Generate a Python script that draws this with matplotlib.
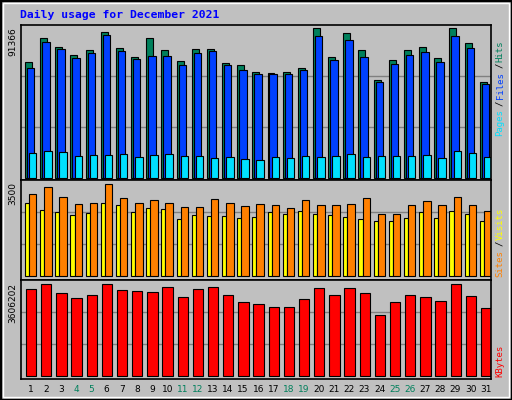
import matplotlib
matplotlib.use("Agg")
import matplotlib.pyplot as plt
from matplotlib.patches import Rectangle
import numpy as np

days = list(range(1, 32))
weekend = [4, 5, 11, 12, 18, 19, 25, 26]
hits = [69250, 83580, 78210, 73430, 76420, 87160, 77610, 72240, 83580, 76420, 69850,
        77010, 77010, 68660, 67460, 63280, 62690, 63280, 65670, 89550, 72240, 86570,
        76420, 58510, 70450, 76420, 78210, 71640, 89550, 80600, 57310]
files = [65670, 81190, 77010, 71640, 74630, 85370, 75820, 71040, 72830, 72830, 67460,
         74630, 75820, 67460, 64480, 62090, 62090, 62090, 64480, 84770, 70450, 82390,
         72240, 57310, 68060, 73430, 75220, 69250, 84770, 77610, 56120]
pages = [14930, 16120, 15520, 13130, 13730, 13730, 14330, 12540, 13730, 14330, 13130,
         13130, 11940, 12540, 11340, 10750, 12540, 11940, 13130, 12540, 13130, 14330,
         12540, 13130, 13130, 13130, 13730, 11940, 16120, 14930, 12540]
sites = [2668, 2411, 2338, 2228, 2301, 2668, 2595, 2338, 2485, 2448, 2081, 2228, 2191,
         2191, 2118, 2154, 2338, 2264, 2375, 2264, 2228, 2154, 2081, 2007, 2007, 2118,
         2338, 2118, 2375, 2264, 2007]
visits = [2999, 3256, 2889, 2632, 2668, 3366, 2852, 2668, 2778, 2668, 2521, 2521, 2815,
          2668, 2558, 2632, 2595, 2485, 2778, 2595, 2595, 2632, 2852, 2264, 2264, 2595,
          2742, 2595, 2889, 2595, 2375]
kbytes = [3277000, 3467000, 3125000, 2935000, 3049000, 3467000, 3239000, 3201000,
          3163000, 3353000, 2973000, 3277000, 3353000, 3049000, 2784000, 2708000,
          2594000, 2594000, 2898000, 3315000, 3049000, 3315000, 3125000, 2290000,
          2784000, 3049000, 2973000, 2822000, 3467000, 3011000, 2556000]
max_hits, max_visits, max_kb = 91366, 3500, 3606202

W, H = 512, 400
fig = plt.figure(figsize=(W/100, H/100), dpi=100)
fig.patch.set_facecolor("#C0C0C0")
fig.add_artist(Rectangle((0, 0), 1, 1, transform=fig.transFigure, fill=False,
                         edgecolor="black", linewidth=2.5))
fig.add_artist(Rectangle((3/W, 3/H), 1-6/W, 1-6/H, transform=fig.transFigure, fill=False,
                         edgecolor="white", linewidth=1))

fig.text(20/W, 1-15/H, "Daily usage for December 2021", color="#0000FF",
         family="DejaVu Sans Mono", weight="bold", fontsize=8.2, va="center", ha="left")

X0, X1 = 21, 491
x = np.array(days, dtype=float)

def mk_ax(ytop, ybot, base_px, top_px, vmax):
    ax = fig.add_axes([X0/W, 1-ybot/H, (X1-X0)/W, (ybot-ytop)/H])
    ax.set_facecolor("#C0C0C0")
    ppu = (base_px - top_px) / vmax
    lo = -(ybot - base_px) / ppu
    hi = vmax + (top_px - ytop) / ppu
    ax.set_ylim(lo, hi)
    ax.set_xlim(0.5, 31.5)
    ax.set_xticks([]); ax.set_yticks([])
    for s in ax.spines.values():
        s.set_color("black"); s.set_linewidth(1.2)
    for f in (1/3, 2/3):
        ax.axhline(vmax*f, color="#808080", lw=1, zorder=0)
    return ax

def bars(ax, off, w, vals, color):
    ax.bar(x - 0.5 + off, vals, width=w, align="edge", color=color,
           edgecolor="black", linewidth=0.8, zorder=2)

a1 = mk_ax(25, 180, 178, 25, max_hits)
bars(a1, 0.26, 0.46, hits, "#00805C")
bars(a1, 0.39, 0.49, files, "#0040FF")
bars(a1, 0.53, 0.49, pages, "#00E0FF")

a2 = mk_ax(180, 280, 276, 180.7, max_visits)
bars(a2, 0.26, 0.27, sites, "#FFFF00")
bars(a2, 0.53, 0.49, visits, "#FF8000")

a3 = mk_ax(280, 379, 375.7, 280.7, max_kb)
bars(a3, 0.33, 0.68, kbytes, "#FF0000")

for txt, ytop in (("91366", 27), ("3500", 182), ("3606202", 283)):
    fig.text(13/W, 1-ytop/H, txt, rotation=90, ha="center", va="top",
             fontsize=6.5, color="black")

def rlabel(parts, ybot):
    y = ybot
    for s, c in parts:
        fig.text(500/W, 1-y/H, s, rotation=90, ha="center", va="bottom",
                 family="DejaVu Sans Mono", fontsize=6.5, color=c)
        y -= 6.0 * len(s) + 0.5

rlabel([("Pages", "#00E0FF"), ("/", "#000000"), ("Files", "#0040FF"),
        ("/", "#000000"), ("Hits", "#00805C")], 136)
rlabel([("Sites", "#FF8000"), ("/", "#000000"), ("Visits", "#FFFF00")], 277)
rlabel([("KBytes", "#FF0000")], 377)

for d in days:
    xp = X0 + (d - 0.5 + 0.62 - 0.5) * (X1 - X0) / 31 + 0.5
    fig.text(xp/W, 1-389/H, str(d), ha="center", va="center", fontsize=6.5,
             color="#00805C" if d in weekend else "black")

fig.savefig("out.png", dpi=100, facecolor=fig.get_facecolor())
